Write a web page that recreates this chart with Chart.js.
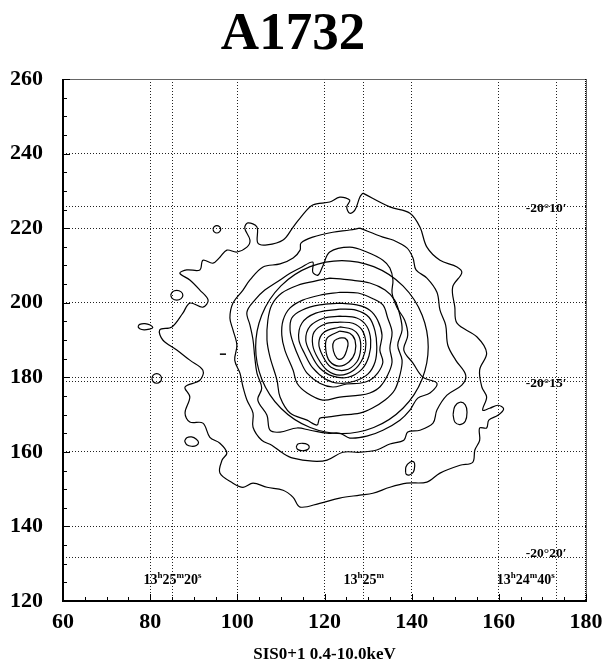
<!DOCTYPE html>
<html>
<head>
<meta charset="utf-8">
<script src="https://cdn.jsdelivr.net/npm/chart.js@4.4.1/dist/chart.umd.min.js"></script>
<style>
  html, body { margin: 0; padding: 0; background: #fff; }
</style>
</head>
<body>
<canvas id="chart" width="603" height="663"></canvas>
<script>
// axis ranges (detector pixels)
const xRange = [60, 180];
const yRange = [120, 260];

// sky coordinate grid: RA lines (x) and Dec lines (y)
const raLines = [85.0, 128.9, 173.1];
const decLines = [226.0, 179.0, 131.7];
const raLabels = [['13', 'h', '25', 'm', '20', 's'], ['13', 'h', '25', 'm'], ['13', 'h', '24', 'm', '40', 's']];
const raLabelX = [85.1, 129.0, 166.2];
const raLabelY = 124.5;
const decLabels = ['-20°10′', '-20°15′', '-20°20′'];
const decLabelX = 166.2;
const decLabelY = [224.4, 177.3, 131.8];

// extraction circle: centre and radii (x, y)
const circleCenter = [124.0, 188.1];
const circleRadius = [19.8, 23.2];

// surface brightness contours, outer to inner
const contour1 = [[128.8,229.4],[135.0,225.7],[139.6,224.0],[141.9,220.3],[143.5,214.9],[146.5,211.4],[150.4,209.6],[151.5,208.0],[149.4,204.2],[149.9,198.8],[150.4,194.5],[155.0,190.8],[157.2,186.5],[155.6,182.0],[156.1,177.4],[157.2,174.7],[156.3,171.2],[157.9,171.7],[159.8,172.5],[161.1,171.5],[159.8,169.8],[157.7,168.5],[157.2,166.4],[155.6,166.4],[155.6,163.1],[154.5,160.5],[154.0,157.2],[151.1,156.4],[146.5,154.3],[143.5,151.9],[138.9,151.6],[135.0,150.5],[131.1,148.9],[128.1,148.4],[123.5,147.6],[118.9,146.2],[114.4,145.2],[112.8,147.8],[110.5,149.7],[106.8,150.5],[103.6,151.6],[101.3,150.5],[99.0,151.6],[96.0,154.3],[96.5,157.8],[97.6,159.7],[96.0,162.3],[93.7,163.9],[92.1,167.7],[89.1,168.0],[88.0,170.4],[89.1,174.7],[88.0,177.4],[91.4,179.2],[92.1,181.9],[89.1,184.6],[86.1,187.3],[82.9,190.0],[82.2,192.7],[85.0,193.5],[87.5,197.2],[89.1,199.9],[92.1,198.8],[93.3,200.7],[91.4,203.4],[89.1,206.1],[86.8,207.9],[88.4,208.8],[91.4,208.8],[92.1,211.4],[94.4,210.6],[96.0,212.2],[97.6,214.1],[99.9,213.6],[102.2,214.9],[102.9,216.8],[101.7,220.0],[102.4,221.4],[104.5,220.3],[104.7,216.0],[106.8,215.5],[110.5,216.8],[112.8,220.3],[114.4,222.7],[117.3,226.2],[121.2,227.0],[123.5,228.3],[125.8,227.5],[125.1,225.7],[125.8,224.0],[127.0,224.9],[128.1,228.3]];
const contour2 = [[128.1,220.0],[133.4,217.6],[135.7,216.8],[138.9,214.7],[140.3,212.0],[141.0,208.8],[143.5,206.6],[145.8,202.8],[146.5,198.0],[147.8,194.0],[148.3,188.6],[150.1,184.6],[152.4,180.6],[151.5,177.9],[148.1,175.2],[145.8,171.2],[144.9,167.7],[141.9,165.8],[139.1,165.3],[138.2,163.1],[135.0,162.1],[132.0,160.5],[128.1,159.9],[124.2,159.9],[120.6,157.8],[117.3,157.5],[112.8,158.3],[110.5,159.6],[107.9,161.8],[105.6,163.1],[103.6,166.6],[103.6,170.4],[102.2,173.9],[101.3,177.4],[100.6,181.1],[99.4,184.6],[99.9,188.6],[99.0,192.7],[98.3,195.9],[99.0,199.9],[101.3,203.4],[102.9,206.1],[105.9,209.6],[109.8,210.4],[112.8,212.0],[114.4,214.1],[114.6,216.0],[117.3,217.6],[121.9,218.9],[125.8,219.5]];
const contour3 = [[114.4,209.3],[117.3,210.9],[117.3,208.2],[118.5,207.4],[119.6,209.8],[121.2,213.6],[125.8,214.9],[129.7,213.6],[133.4,211.4],[135.0,209.3],[135.7,206.1],[135.5,202.6],[136.6,198.8],[138.4,195.3],[139.1,191.3],[138.2,187.3],[140.3,183.8],[142.6,180.0],[145.8,178.4],[144.2,175.8],[141.4,174.4],[139.6,171.2],[137.3,168.5],[133.4,165.8],[129.7,164.2],[125.8,163.7],[123.5,165.0],[120.6,165.0],[116.7,165.8],[113.7,166.4],[109.8,165.3],[107.5,165.8],[106.8,169.8],[104.7,173.9],[105.6,177.1],[104.5,181.1],[104.0,185.4],[103.6,190.0],[102.9,194.0],[102.2,197.5],[104.0,200.7],[106.3,203.4],[109.8,206.1],[112.1,207.9]];
const contour4 = [[121.2,206.6],[125.8,206.1],[130.4,205.3],[133.9,203.4],[136.1,200.7],[137.3,196.7],[137.8,192.7],[136.8,188.6],[137.8,184.6],[137.3,180.6],[136.1,176.6],[133.9,173.9],[130.9,171.7],[128.1,170.4],[123.5,169.8],[120.6,169.3],[118.9,169.0],[118.3,167.2],[116.0,168.5],[112.1,170.4],[109.8,174.7],[109.1,179.2],[107.5,185.4],[106.8,190.0],[107.0,195.3],[107.9,199.4],[110.2,202.6],[113.9,204.7],[117.8,205.8]];
const contour5 = [[123.5,202.8],[127.7,202.6],[130.9,201.2],[133.4,199.4],[134.5,195.9],[135.5,192.1],[135.0,187.8],[135.5,184.1],[134.5,180.6],[132.7,177.4],[130.4,175.8],[128.1,175.2],[123.5,174.7],[119.6,173.9],[116.0,175.8],[113.7,178.4],[112.8,181.9],[110.9,187.3],[110.2,191.3],[110.5,195.3],[112.1,198.6],[115.0,200.7],[118.9,202.0]];
const contour6 = [[123.5,199.9],[127.4,199.4],[130.4,198.0],[132.2,195.3],[133.2,191.3],[132.7,187.3],[133.4,184.1],[132.2,181.1],[130.4,179.2],[128.1,178.4],[125.1,178.2],[121.9,177.4],[118.9,178.4],[116.0,181.1],[114.4,184.6],[112.8,189.2],[112.1,192.7],[112.5,195.9],[114.8,198.0],[118.9,199.4]];
const contour7 = [[123.5,198.3],[127.2,198.0],[130.2,196.1],[131.6,192.4],[132.0,188.1],[131.6,184.1],[130.0,180.9],[127.0,179.0],[123.5,178.4],[120.3,179.5],[117.3,182.5],[115.5,186.2],[114.1,190.2],[114.8,194.5],[118.0,197.2]];
const contour8 = [[123.5,196.4],[127.4,195.9],[129.7,193.7],[130.6,190.0],[130.2,185.7],[128.6,182.2],[125.4,180.0],[121.9,180.3],[118.9,182.5],[116.9,186.2],[115.7,190.0],[116.7,193.7],[119.9,195.9]];
const contour9 = [[123.5,194.8],[126.5,194.5],[128.6,192.7],[129.5,188.9],[128.8,185.1],[126.7,181.9],[123.5,180.6],[120.6,181.9],[118.5,185.1],[117.3,188.6],[117.6,192.1],[120.1,194.3]];
const contour10 = [[123.5,193.5],[126.3,192.9],[127.9,191.0],[128.3,187.6],[127.4,184.1],[124.7,181.9],[121.5,182.7],[119.6,185.7],[118.7,189.2],[119.9,192.1]];
const contour11 = [[123.5,192.4],[125.8,191.8],[127.0,190.0],[127.0,186.7],[125.6,184.1],[123.3,183.0],[121.2,184.3],[120.3,187.3],[120.6,190.5]];
const contour12 = [[123.3,190.5],[124.7,190.5],[125.4,189.2],[125.1,187.3],[124.4,185.4],[123.3,184.8],[122.4,185.9],[121.9,188.1],[122.2,189.7]];

// small closed islands of the lowest levels
const islandA = [[94.4,219.7],[94.7,220.4],[95.3,220.7],[95.9,220.4],[96.2,219.7],[95.9,219.0],[95.3,218.7],[94.7,219.0]];
const islandB = [[84.7,202.0],[85.1,202.9],[86.1,203.3],[87.1,202.9],[87.5,202.0],[87.1,201.1],[86.1,200.7],[85.1,201.1]];
const islandC = [[77.2,193.6],[77.6,194.2],[78.8,194.4],[80.0,194.0],[80.6,193.3],[79.8,192.9],[78.6,192.7],[77.6,193.0]];
const islandD = [[80.4,179.7],[80.7,180.6],[81.5,181.0],[82.3,180.6],[82.6,179.7],[82.3,178.8],[81.5,178.4],[80.7,178.8]];
const islandE = [[87.9,162.9],[88.4,163.8],[89.5,164.0],[90.6,163.4],[91.1,162.5],[90.6,161.7],[89.5,161.5],[88.4,161.9]];
const islandF = [[149.5,170.0],[149.9,172.2],[151.1,173.3],[152.3,172.6],[152.7,170.6],[152.3,168.2],[151.1,167.3],[149.9,168.0]];
const islandG = [[138.6,154.5],[138.7,156.0],[139.6,157.2],[140.5,157.3],[140.7,156.3],[140.4,154.6],[139.5,153.8],[138.8,153.9]];
const islandH = [[113.5,161.3],[113.9,162.1],[115.0,162.3],[116.1,162.0],[116.5,161.3],[116.1,160.6],[115.0,160.3],[113.9,160.6]];
const dashMark = [[96.0,186.2],[97.4,186.2]];

const closedLines = [contour1, contour2, contour3, contour4, contour5, contour6, contour7, contour8,
  contour9, contour10, contour11, contour12, islandA, islandB, islandC, islandD, islandE, islandF, islandG, islandH];

const serif = "'Liberation Serif', 'Times New Roman', serif";

function toPoints(arr, close) {
  const pts = arr.map(p => ({ x: p[0], y: p[1] }));
  if (close) pts.push({ x: arr[0][0], y: arr[0][1] });
  return pts;
}

const datasets = closedLines.map(c => ({
  data: toPoints(c, true),
  showLine: true,
  borderColor: '#000',
  borderWidth: 1.2,
  pointRadius: 0,
  tension: 0.35,
  fill: false
}));
datasets.push({ data: toPoints(dashMark, false), showLine: true, borderColor: '#000', borderWidth: 1.5, pointRadius: 0 });

// draws the sky grid, circle, frame, inward ticks and coordinate labels
const overlay = {
  id: 'overlay',
  beforeDatasetsDraw(chart) {
    const { ctx, chartArea: a, scales: { x, y } } = chart;
    ctx.save();
    ctx.strokeStyle = '#222';
    ctx.lineWidth = 1;
    ctx.setLineDash([1, 2]);
    raLines.forEach(v => {
      const px = Math.round(x.getPixelForValue(v)) + 0.5;
      ctx.beginPath(); ctx.moveTo(px, a.top); ctx.lineTo(px, a.bottom); ctx.stroke();
    });
    decLines.forEach(v => {
      const py = Math.round(y.getPixelForValue(v)) + 0.5;
      ctx.beginPath(); ctx.moveTo(a.left, py); ctx.lineTo(a.right, py); ctx.stroke();
    });
    ctx.restore();
  },
  afterDatasetsDraw(chart) {
    const { ctx, scales: { x, y } } = chart;
    const cx = x.getPixelForValue(circleCenter[0]);
    const cy = y.getPixelForValue(circleCenter[1]);
    const rx = Math.abs(x.getPixelForValue(circleCenter[0] + circleRadius[0]) - cx);
    const ry = Math.abs(y.getPixelForValue(circleCenter[1] + circleRadius[1]) - cy);
    ctx.save();
    ctx.strokeStyle = '#000';
    ctx.lineWidth = 1.2;
    ctx.beginPath();
    ctx.ellipse(cx, cy, rx, ry, 0, 0, Math.PI * 2);
    ctx.stroke();
    ctx.restore();
  },
  afterDraw(chart) {
    const { ctx, chartArea: a, scales: { x, y } } = chart;
    ctx.save();
    // top and right frame: grey, dotted look
    ctx.strokeStyle = '#666';
    ctx.lineWidth = 1;
    ctx.beginPath();
    ctx.moveTo(a.left, a.top + 0.5); ctx.lineTo(a.right + 0.5, a.top + 0.5); ctx.lineTo(a.right + 0.5, a.bottom);
    ctx.stroke();
    ctx.strokeStyle = '#000';
    ctx.setLineDash([1, 1]);
    ctx.beginPath();
    ctx.moveTo(a.right - 0.5, a.top); ctx.lineTo(a.right - 0.5, a.bottom);
    ctx.stroke();
    ctx.setLineDash([]);
    // left and bottom frame: solid black
    ctx.lineWidth = 2;
    ctx.beginPath();
    ctx.moveTo(a.left, a.top); ctx.lineTo(a.left, a.bottom); ctx.lineTo(a.right + 1, a.bottom);
    ctx.stroke();
    // inward ticks every 5 units
    ctx.lineWidth = 1;
    for (let v = xRange[0]; v <= xRange[1]; v += 5) {
      const px = Math.round(x.getPixelForValue(v)) + 0.5;
      const len = v % 20 === 0 ? 7 : 4;
      ctx.beginPath(); ctx.moveTo(px, a.bottom); ctx.lineTo(px, a.bottom - len); ctx.stroke();
    }
    for (let v = yRange[0]; v <= yRange[1]; v += 5) {
      const py = Math.round(y.getPixelForValue(v)) + 0.5;
      const len = v % 20 === 0 ? 7 : 4;
      ctx.beginPath(); ctx.moveTo(a.left, py); ctx.lineTo(a.left + len, py); ctx.stroke();
    }
    // RA labels with superscripts
    ctx.fillStyle = '#000';
    ctx.textBaseline = 'alphabetic';
    const numFont = 'bold 14px ' + serif;
    const supFont = 'bold 9px ' + serif;
    const base = y.getPixelForValue(raLabelY);
    raLabels.forEach((parts, i) => {
      let w = 0;
      parts.forEach((p, k) => { ctx.font = k % 2 ? supFont : numFont; w += ctx.measureText(p).width; });
      let px = x.getPixelForValue(raLabelX[i]) - w / 2;
      parts.forEach((p, k) => {
        ctx.font = k % 2 ? supFont : numFont;
        ctx.fillText(p, px, k % 2 ? base - 6 : base);
        px += ctx.measureText(p).width;
      });
    });
    // Dec labels
    ctx.font = 'bold 13.5px ' + serif;
    ctx.textAlign = 'left';
    decLabels.forEach((t, i) => {
      ctx.fillText(t, x.getPixelForValue(decLabelX), y.getPixelForValue(decLabelY[i]));
    });
    ctx.restore();
  }
};

const tickFont = { family: serif, size: 22, weight: 'bold' };

new Chart(document.getElementById('chart'), {
  type: 'scatter',
  data: { datasets: datasets },
  options: {
    responsive: false,
    animation: false,
    devicePixelRatio: 1,
    layout: { padding: { left: 0, right: 17, top: 0, bottom: 0 } },
    plugins: {
      legend: { display: false },
      tooltip: { enabled: false },
      title: {
        display: true,
        text: 'A1732',
        color: '#000',
        font: { family: serif, size: 53, weight: 'bold', lineHeight: 1.2 },
        padding: { top: 4, bottom: 11.4 }
      }
    },
    scales: {
      x: {
        type: 'linear',
        min: xRange[0], max: xRange[1],
        ticks: { stepSize: 20, color: '#000', font: tickFont, padding: 8, maxRotation: 0 },
        grid: { color: '#222', lineWidth: 1, drawTicks: false },
        border: { display: false, dash: [1, 2] },
        title: {
          display: true,
          text: 'SIS0+1 0.4-10.0keV',
          color: '#000',
          font: { family: serif, size: 17, weight: 'bold', lineHeight: 1 },
          padding: { top: 0, bottom: 0 }
        },
        afterFit(s) { s.height = 62; s.paddingLeft = 0; s.paddingRight = 0; }
      },
      y: {
        type: 'linear',
        min: yRange[0], max: yRange[1],
        ticks: { stepSize: 20, color: '#000', font: tickFont, padding: 20 },
        grid: { color: '#222', lineWidth: 1, drawTicks: false },
        border: { display: false, dash: [1, 2] },
        afterFit(s) { s.width = 63; s.paddingTop = 0; s.paddingBottom = 0; }
      }
    }
  },
  plugins: [overlay]
});
</script>
</body>
</html>
